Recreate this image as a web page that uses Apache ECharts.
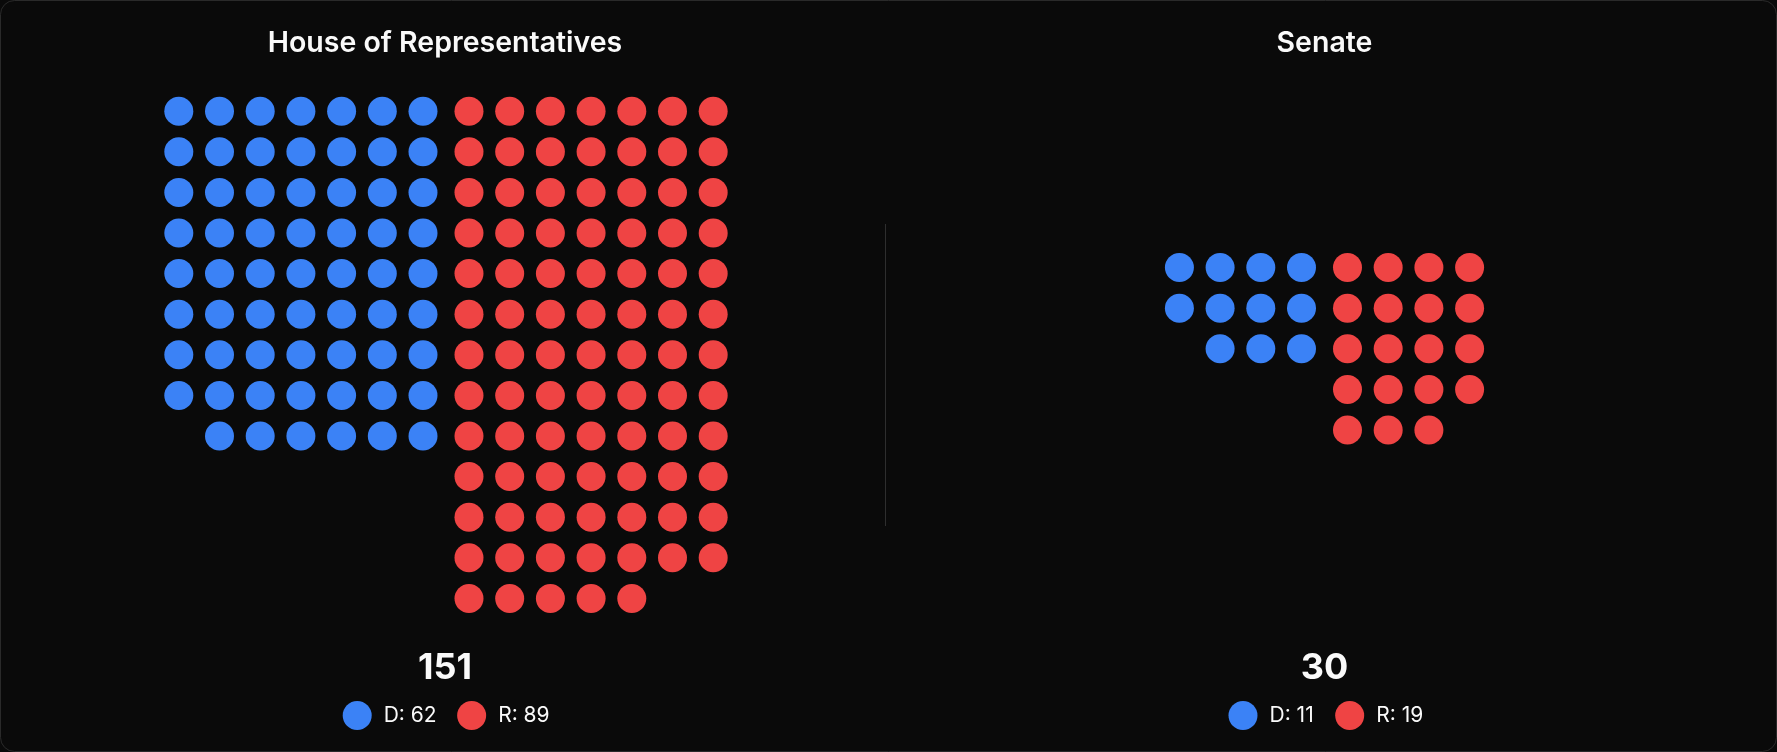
<!DOCTYPE html>
<html>
<head>
<meta charset="utf-8">
<title>Seats</title>
<script src="https://cdn.jsdelivr.net/npm/echarts@6/dist/echarts.min.js"></script>
<style>
  html, body { margin: 0; padding: 0; background: #0a0a0a; }
  #seat_chart { width: 1777px; height: 752px; }
</style>
</head>
<body>
<div id="seat_chart"></div>
<script>
// chamber data
const chambers = ['House of Representatives', 'Senate'];
const demSeats = [62, 11];
const repSeats = [89, 19];
const blockCols = [7, 4];      // columns per party block
const partyCodes = ['D', 'R'];
const partyColors = ['#3b82f6', '#ef4444'];

// layout (px)
const pitchX = 40.7, pitchY = 40.6, gapUnits = 0.13, dot = 29;
const panelCenter = [445, 1324.5];
const gridLeft = [158.45, 1159.05];
const gridTop = [90.9, 247.3];
const legendLeft = [342.7, 1228.5];

// dem block: last partial row right-aligned; rep block: left-aligned
function demCells(n, c) {
  let full = Math.floor(n / c), rem = n % c, out = [];
  for (let i = 0; i < n; i++) {
    let row = Math.floor(i / c);
    let col = i % c;
    if (row === full && rem) col += c - rem;
    out.push([col, row]);
  }
  return out;
}
function repCells(n, c) {
  let out = [];
  for (let i = 0; i < n; i++) {
    out.push([c + gapUnits + (i % c), Math.floor(i / c)]);
  }
  return out;
}

let grids = [], xAxes = [], yAxes = [], series = [], titles = [], legends = [];
chambers.forEach((name, k) => {
  let c = blockCols[k];
  let rows = Math.max(Math.ceil(demSeats[k] / c), Math.ceil(repSeats[k] / c));
  grids.push({
    left: gridLeft[k], top: gridTop[k],
    width: (2 * c + gapUnits) * pitchX,
    height: rows * pitchY
  });
  xAxes.push({ type: 'value', gridIndex: k, min: -0.5, max: 2 * c - 0.5 + gapUnits, show: false });
  yAxes.push({ type: 'value', gridIndex: k, min: -0.5, max: rows - 0.5, inverse: true, show: false });

  let counts = [demSeats[k], repSeats[k]];
  let cells = [demCells(demSeats[k], c), repCells(repSeats[k], c)];
  let names = [];
  partyCodes.forEach((p, j) => {
    let sname = p + ': ' + counts[j];
    names.push(sname);
    series.push({
      name: sname,
      type: 'scatter',
      xAxisIndex: k, yAxisIndex: k,
      symbol: 'circle',
      symbolSize: dot,
      itemStyle: { color: partyColors[j], opacity: 1 },
      emphasis: { disabled: true },
      silent: true,
      data: cells[j]
    });
  });

  titles.push({
    text: name, left: panelCenter[k], top: 43, padding: 0,
    textAlign: 'center', textVerticalAlign: 'middle',
    textStyle: { color: '#fafafa', fontSize: 28.5, fontWeight: 600, fontFamily: 'Inter' }
  });
  titles.push({
    text: String(demSeats[k] + repSeats[k]), left: panelCenter[k], top: 668, padding: 0,
    textAlign: 'center', textVerticalAlign: 'middle',
    textStyle: { color: '#fafafa', fontSize: 36, fontWeight: 700, fontFamily: 'Inter' }
  });
  legends.push({
    data: names,
    left: legendLeft[k],
    top: 701,
    padding: 0,
    icon: 'circle',
    itemWidth: dot, itemHeight: dot,
    itemGap: k === 0 ? 20.5 : 21.5,
    selectedMode: false,
    textStyle: { color: '#fafafa', fontSize: 21, fontFamily: 'Inter', padding: [0, 0, 0, 7] }
  });
});

let myChart = echarts.init(document.getElementById('seat_chart'));
myChart.setOption({
  backgroundColor: '#0a0a0a',
  animation: false,
  title: titles,
  legend: legends,
  grid: grids,
  xAxis: xAxes,
  yAxis: yAxes,
  series: series,
  graphic: [
    {
      type: 'rect', z: -10, silent: true,
      shape: { x: 0.5, y: 0.5, width: 1776, height: 751, r: 14 },
      style: { fill: 'none', stroke: '#2a2a2a', lineWidth: 1 }
    },
    {
      type: 'line', silent: true,
      shape: { x1: 885.5, y1: 224, x2: 885.5, y2: 526 },
      style: { stroke: '#2e2e2e', lineWidth: 1 }
    }
  ]
});
</script>
</body>
</html>
